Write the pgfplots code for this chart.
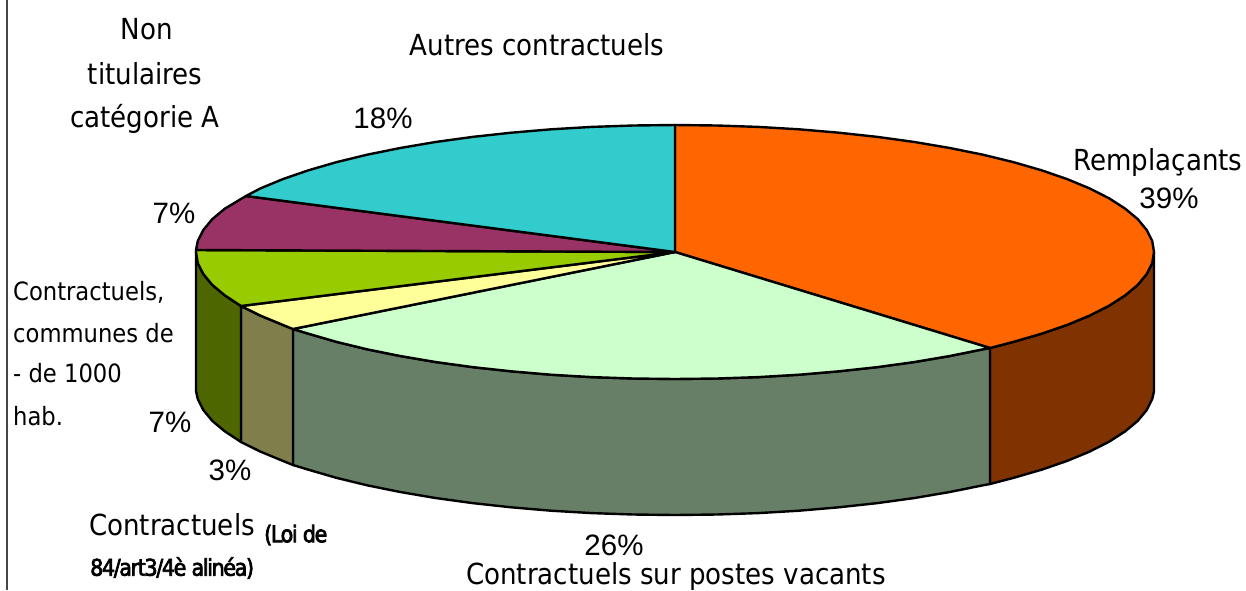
\documentclass[border=0pt]{standalone}
\usepackage{pgfplots}
\pgfplotsset{compat=1.18}
\usepackage{fontspec}
\setmainfont{DejaVu Sans Condensed}
\newfontfamily\arialf{Liberation Sans}
\newfontfamily\squeezed[LetterSpace=-6,FakeBold=3]{DejaVu Sans Condensed}
\definecolor{cOrange}{HTML}{FF6600}
\definecolor{cMint}{HTML}{CCFFCC}
\definecolor{cYellow}{HTML}{FFFF99}
\definecolor{cLime}{HTML}{99CC00}
\definecolor{cPlum}{HTML}{993366}
\definecolor{cCyan}{HTML}{33CCCC}
\definecolor{sBrown}{HTML}{803300}
\definecolor{sMint}{HTML}{667F66}
\definecolor{sYellow}{HTML}{807F4C}
\definecolor{sLime}{HTML}{4D6600}
\tikzset{
  lbl/.style={inner sep=0pt, font=\fontsize{29}{32}\selectfont, text=black},
  small/.style={inner sep=0pt, anchor=west, font=\fontsize{25.2}{28}\selectfont, text=black},
  pct/.style={inner sep=0pt, font=\fontsize{29.5}{32}\arialf\selectfont, text=black},
}
\begin{document}
\begin{tikzpicture}
\path[use as bounding box] (0,0) rectangle (1246pt,590pt);
\begin{axis}[
  at={(0,0)}, anchor=south west,
  scale only axis, width=1246pt, height=590pt,
  xmin=0, xmax=1246, ymin=0, ymax=590, y dir=reverse,
  hide axis, clip=true,
  every axis plot/.append style={draw=black, line width=2.4pt, line join=round, mark=none},
]
% frame line
\addplot[draw=black!72, line width=2.4pt] coordinates {(7,0) (7,590)};
% sides
\addplot[fill=sBrown] coordinates {(1154,252)(1152.2,263.1)(1146.7,274)(1137.7,284.9)(1125.1,295.4)(1109.1,305.7)(1089.8,315.5)(1067.4,324.8)(1041.9,333.6)(1013.7,341.8)(990,348)(990,484)(1013.7,477.8)(1041.9,469.6)(1067.4,460.8)(1089.8,451.5)(1109.1,441.7)(1125.1,431.4)(1137.7,420.9)(1146.7,410)(1152.2,399.1)(1154,391)} -- cycle;
\addplot[fill=sMint] coordinates {(990,348)(982.9,349.3)(949.8,356)(914.5,362)(877.4,367.1)(838.8,371.3)(799,374.7)(758.2,377.1)(716.8,378.5)(675,379)(633.2,378.5)(591.8,377.1)(551,374.7)(511.2,371.3)(472.6,367.1)(435.5,362)(400.2,356)(367.1,349.3)(336.3,341.8)(308.1,333.6)(293,329)(293,465)(308.1,469.6)(336.3,477.8)(367.1,485.3)(400.2,492)(435.5,498)(472.6,503.1)(511.2,507.3)(551,510.7)(591.8,513.1)(633.2,514.5)(675,515)(716.8,514.5)(758.2,513.1)(799,510.7)(838.8,507.3)(877.4,503.1)(914.5,498)(949.8,492)(982.9,485.3)(990,484)} -- cycle;
\addplot[fill=sYellow] coordinates {(293,329)(282.6,324.8)(260.2,315.5)(241,306)(241,442)(260.2,451.5)(282.6,460.8)(293,465)} -- cycle;
\addplot[fill=sLime] coordinates {(241,306)(224.9,295.4)(212.3,284.9)(203.3,274)(197.8,263.1)(196,252)(196,391)(197.8,399.1)(203.3,410)(212.3,420.9)(224.9,431.4)(241,442)} -- cycle;
% top sectors
\addplot[fill=cOrange] coordinates {(675,252)(675,125)(716.8,125.5)(758.2,126.9)(799,129.3)(838.8,132.7)(877.4,136.9)(914.5,142)(949.8,148)(982.9,154.7)(1013.7,162.2)(1041.9,170.4)(1067.4,179.2)(1089.8,188.5)(1109.1,198.3)(1125.1,208.6)(1137.7,219.1)(1146.7,230)(1152.2,240.9)(1154,252)(1152.2,263.1)(1146.7,274)(1137.7,284.9)(1125.1,295.4)(1109.1,305.7)(1089.8,315.5)(1067.4,324.8)(1041.9,333.6)(1013.7,341.8)(990,348)} -- cycle;
\addplot[fill=cMint] coordinates {(675,252)(990,348)(982.9,349.3)(949.8,356)(914.5,362)(877.4,367.1)(838.8,371.3)(799,374.7)(758.2,377.1)(716.8,378.5)(675,379)(633.2,378.5)(591.8,377.1)(551,374.7)(511.2,371.3)(472.6,367.1)(435.5,362)(400.2,356)(367.1,349.3)(336.3,341.8)(308.1,333.6)(293,329)} -- cycle;
\addplot[fill=cYellow] coordinates {(675,252)(293,329)(282.6,324.8)(260.2,315.5)(241,306)} -- cycle;
\addplot[fill=cLime] coordinates {(675,252)(241,306)(224.9,295.4)(212.3,284.9)(203.3,274)(197.8,263.1)(196,252)(196,250)} -- cycle;
\addplot[fill=cPlum] coordinates {(675,252)(196,250)(197.8,240.9)(203.3,230)(212.3,219.1)(224.9,208.6)(246,196)} -- cycle;
\addplot[fill=cCyan] coordinates {(675,252)(246,196)(260.2,188.5)(282.6,179.2)(308.1,170.4)(336.3,162.2)(367.1,154.7)(400.2,148)(435.5,142)(472.6,136.9)(511.2,132.7)(551,129.3)(591.8,126.9)(633.2,125.5)(675,125)} -- cycle;
% labels
\node[lbl] at (axis cs:147,29) {Non};
\node[lbl] at (axis cs:145,74) {titulaires};
\node[lbl] at (axis cs:145,119) {catégorie A};
\node[lbl] at (axis cs:537,45) {Autres contractuels};
\node[lbl] at (axis cs:1158,162) {Remplaçants};
\node[lbl] at (axis cs:676,576) {Contractuels sur postes vacants};
\node[lbl, anchor=west] at (axis cs:89,525) {Contractuels};
\node[inner sep=0pt, anchor=west, font=\fontsize{23}{26}\squeezed\selectfont] at (axis cs:264,535) {(Loi de};
\node[inner sep=0pt, anchor=west, font=\fontsize{23}{26}\squeezed\selectfont] at (axis cs:90,568) {84/art3/4è alinéa)};
\node[small] at (axis cs:13,292) {Contractuels,};
\node[small] at (axis cs:13,333) {communes de};
\node[small] at (axis cs:13,373) {- de 1000};
\node[small] at (axis cs:13,416) {hab.};
\node[pct] at (axis cs:383,118) {18\%};
\node[pct] at (axis cs:1169,198) {39\%};
\node[pct] at (axis cs:174,213) {7\%};
\node[pct] at (axis cs:170,422) {7\%};
\node[pct] at (axis cs:230,470) {3\%};
\node[pct] at (axis cs:614,545) {26\%};
\end{axis}
\end{tikzpicture}
\end{document}
